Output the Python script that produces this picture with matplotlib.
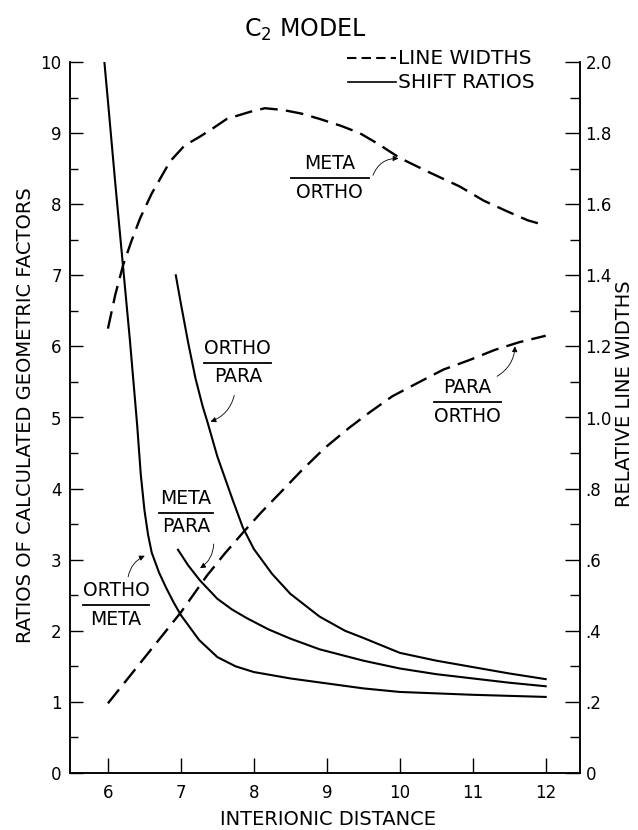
import matplotlib.pyplot as plt

# shift ratios (left axis)
x_om = [5.93, 6.0, 6.1, 6.2, 6.3, 6.4, 6.45, 6.5, 6.55, 6.6, 6.7, 6.8, 6.9, 7.0, 7.25, 7.5, 7.75, 8.0, 8.5, 9.0, 9.5, 10, 11, 12]
y_om = [10.24, 9.45, 8.3, 7.2, 6.1, 4.9, 4.2, 3.7, 3.35, 3.1, 2.82, 2.6, 2.4, 2.22, 1.87, 1.63, 1.5, 1.42, 1.33, 1.26, 1.19, 1.14, 1.10, 1.07]

x_op = [6.93, 7.0, 7.1, 7.2, 7.3, 7.36, 7.5, 7.71, 7.85, 8.0, 8.25, 8.5, 8.9, 9.25, 9.5, 10, 10.5, 11, 11.5, 12]
y_op = [7.0, 6.6, 6.05, 5.55, 5.15, 4.95, 4.45, 3.84, 3.45, 3.15, 2.8, 2.52, 2.2, 2.0, 1.9, 1.69, 1.58, 1.49, 1.4, 1.32]

x_mp = [6.96, 7.1, 7.26, 7.5, 7.7, 7.9, 8.2, 8.5, 8.9, 9.5, 10, 10.5, 11, 11.5, 12]
y_mp = [3.14, 2.92, 2.71, 2.45, 2.3, 2.18, 2.02, 1.89, 1.74, 1.58, 1.47, 1.39, 1.33, 1.27, 1.22]

# relative line widths (right axis)
x_mo = [6.0, 6.1, 6.21, 6.32, 6.44, 6.6, 6.85, 7.05, 7.26, 7.45, 7.63, 7.95, 8.15, 8.4, 8.65, 8.9, 9.2, 9.45,
        9.7, 10.0, 10.4, 10.82, 11.15, 11.47, 11.75, 12.0]
w_mo = [1.25, 1.345, 1.43, 1.495, 1.56, 1.63, 1.72, 1.765, 1.79, 1.815, 1.84, 1.86, 1.87, 1.865, 1.855, 1.84, 1.82, 1.80,
        1.77, 1.73, 1.69, 1.65, 1.61, 1.58, 1.555, 1.54]

x_po = [6.0, 6.5, 7.0, 7.36, 7.6, 7.85, 8.1, 8.36, 8.65, 8.97, 9.3, 9.59, 9.9, 10.27, 10.6, 10.96, 11.3, 11.64, 12.0]
w_po = [0.196, 0.324, 0.452, 0.556, 0.617, 0.676, 0.733, 0.788, 0.85, 0.914, 0.97, 1.015, 1.06, 1.10, 1.135, 1.162, 1.19, 1.212, 1.23]

xticks = [6, 7, 8, 9, 10, 11, 12]
lticks = list(range(0, 11))
rticks = [0, 0.2, 0.4, 0.6, 0.8, 1.0, 1.2, 1.4, 1.6, 1.8, 2.0]
rlabels = ["0", ".2", ".4", ".6", ".8", "1.0", "1.2", "1.4", "1.6", "1.8", "2.0"]

W, H = 638, 830
fig = plt.figure(figsize=(W / 100, H / 100), dpi=100)
ax = fig.add_axes([70 / W, 1 - 773 / H, 510 / W, 711 / H])
ax2 = ax.twinx()

lw = 1.5
ax.plot(x_om, y_om, color="black", lw=lw)
ax.plot(x_op, y_op, color="black", lw=lw)
ax.plot(x_mp, y_mp, color="black", lw=lw)
ax2.plot(x_mo, w_mo, color="black", lw=1.7, dashes=(7.5, 3.5))
ax2.plot(x_po, w_po, color="black", lw=1.7, dashes=(7.5, 3.5))

ax.set_xlim(5.48, 12.47)
ax.set_ylim(0, 10)
ax2.set_ylim(0, 2)
for a in (ax, ax2):
    a.spines["top"].set_visible(False)
    for s in a.spines.values():
        s.set_linewidth(1.1)
ax.set_xticks(xticks)
ax.set_xticklabels([str(t) for t in xticks])
ax.set_yticks(lticks)
ax.set_yticks([i + 0.5 for i in range(10)], minor=True)
ax2.set_yticks(rticks)
ax2.set_yticklabels(rlabels)
ax2.set_yticks([0.1 + 0.2 * i for i in range(10)], minor=True)

ax.tick_params(axis="x", direction="in", length=11, width=1, labelsize=12, pad=8)
ax.tick_params(axis="y", which="major", direction="in", length=9.5, width=1, labelsize=12, pad=6)
ax.tick_params(axis="y", which="minor", direction="in", length=6, width=1)
ax2.tick_params(axis="y", which="major", direction="in", length=11, width=1, labelsize=12, pad=4)
ax2.tick_params(axis="y", which="minor", direction="in", length=7, width=1)

# axis titles placed by hand so they fit inside the figure
fig.text(328 / W, 1 - 819 / H, "INTERIONIC DISTANCE", fontsize=14, ha="center", va="center")
fig.text(26 / W, 1 - 415 / H, "RATIOS OF CALCULATED GEOMETRIC FACTORS", fontsize=14,
         rotation=90, ha="center", va="center")
fig.text(624 / W, 1 - 394 / H, "RELATIVE LINE WIDTHS", fontsize=14, rotation=90, ha="center", va="center")

fig.text(305 / W, 1 - 30 / H, "C$_2$ MODEL", fontsize=17, ha="center", va="center")

# legend, drawn by hand
fig.add_artist(plt.Line2D([347 / W, 396 / W], [1 - 58 / H] * 2, color="black", lw=1.5, dashes=(4.5, 2.5)))
fig.add_artist(plt.Line2D([348 / W, 396 / W], [1 - 82 / H] * 2, color="black", lw=1.2))
fig.text(398 / W, 1 - 58 / H, "LINE WIDTHS", fontsize=14.5, va="center")
fig.text(398 / W, 1 - 82 / H, "SHIFT RATIOS", fontsize=14.5, va="center")


# fraction labels with a little arrow to the curve
def frac(top, bot, xc, yc, width):
    ax.text(xc, yc + 0.2, top, fontsize=13.5, ha="center", va="center")
    ax.text(xc, yc - 0.2, bot, fontsize=13.5, ha="center", va="center")
    ax.plot([xc - width / 2, xc + width / 2], [yc, yc], color="black", lw=1.3, clip_on=False)


def arrow(x0, y0, x1, y1, rad):
    ax.annotate("", xy=(x1, y1), xytext=(x0, y0),
                arrowprops=dict(arrowstyle="-|>", color="black", lw=0.6, mutation_scale=8,
                                connectionstyle="arc3,rad=%s" % rad))


frac("META", "ORTHO", 9.04, 8.37, 1.07)
arrow(9.62, 8.37, 10.02, 8.64, -0.4)
frac("ORTHO", "PARA", 7.78, 5.77, 0.92)
arrow(7.74, 5.35, 7.37, 4.93, -0.3)
frac("META", "PARA", 7.07, 3.66, 0.74)
arrow(7.45, 3.26, 7.23, 2.86, -0.3)
frac("ORTHO", "META", 6.11, 2.36, 0.9)
arrow(6.27, 2.72, 6.54, 3.07, -0.3)
frac("PARA", "ORTHO", 10.93, 5.22, 0.92)
arrow(11.3, 5.56, 11.58, 6.04, 0.3)

fig.savefig("out.png", dpi=100)
